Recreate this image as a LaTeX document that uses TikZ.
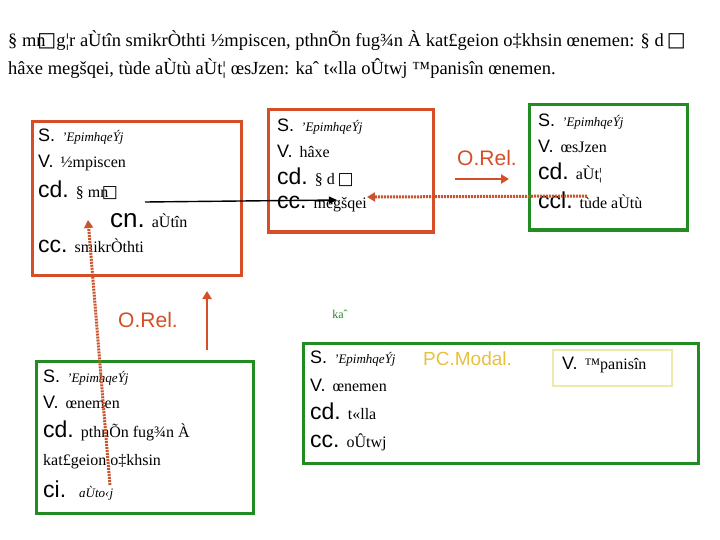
\documentclass[tikz,border=0pt]{standalone}
\usepackage{fontspec}
\setmainfont{Liberation Serif}
\newfontfamily\labf{Liberation Sans}
\newfontfamily\symf{DejaVu Sans}
\usetikzlibrary{arrows.meta}
\definecolor{redb}{RGB}{214,78,40}
\definecolor{greenb}{RGB}{34,140,34}
\definecolor{dotred}{RGB}{200,85,45}
\definecolor{yelt}{RGB}{232,192,64}
\definecolor{yelb}{RGB}{238,232,170}
\newcommand{\mbx}{{\symf\fontsize{20}{20}\selectfont\char"25A1}}
\newcommand{\mbxs}{{\symf\fontsize{17}{17}\selectfont\char"25A1}}
\newcommand{\lS}[1]{{\labf\fontsize{18}{18}\selectfont #1}\hspace{7pt}}
\newcommand{\lB}[1]{{\labf\fontsize{23}{23}\selectfont #1}\hspace{7pt}}
\newcommand{\gk}[1]{{\fontsize{16}{16}\selectfont #1}}
\newcommand{\gi}[1]{{\fontsize{13}{13}\selectfont\itshape #1}}
\tikzset{
  redbox/.style={draw=redb,line width=3pt},
  greenbox/.style={draw=greenb,line width=3pt},
  yelbox/.style={draw=yelb,line width=1.2pt},
  ln/.style={anchor=base west,inner sep=0pt},
  dotarrow/.style={draw=dotred,line width=3pt,dash pattern=on 2pt off 1pt,-{Triangle[length=8pt,width=9pt]}},
  solarrow/.style={draw=redb,line width=2.8pt,-{Triangle[length=8pt,width=9pt]}},
  blkarrow/.style={draw=black,line width=1.4pt,-{Triangle[length=8pt,width=7pt]}},
  rel/.style={text=redb,inner sep=0pt,font=\labf\fontsize{21}{21}\selectfont}
}
\begin{document}
\begin{tikzpicture}[x=1pt,y=-1pt]
\useasboundingbox (0,0) rectangle (720,540);
\fill[white] (0,0) rectangle (720,540);
% title
\node[ln] (t1) at (8,47) {{\fontsize{18.5}{18.5}\selectfont § mn\kern-0.45em\mbx g¦r aÙtîn smikrÒthti ½mpiscen, pthnÕn fug¾n À kat£geion o‡khsin œnemen: § d\,\mbx}};
\node[ln] (t2) at (8,75) {{\fontsize{18.5}{18.5}\selectfont hâxe megšqei, tùde aÙtù aÙt¦ œsJzen: kaˆ t«lla oÛtwj ™panisîn œnemen.}};
% boxes
\path[redbox] (32,122) rectangle (241,275) node[coordinate] (b1) {};
\path[redbox] (268,110) rectangle (433,232) node[coordinate] (b2) {};
\path[greenbox] (529,105) rectangle (687,230) node[coordinate] (b3) {};
\path[greenbox] (36,361) rectangle (253,513) node[coordinate] (b4) {};
\path[greenbox] (303,343) rectangle (698,463) node[coordinate] (b5) {};
\path[yelbox] (553,350) rectangle (672,386) node[coordinate] (b6) {};
% box 1
\node[ln] (a1) at (38,142) {\lS{S.}\gi{'EpimhqeÝj}};
\node[ln] (a2) at (38,168) {\lS{V.}\gk{½mpiscen}};
\node[ln] (a3) at (38,197) {\lB{cd.}\gk{§ mn\kern-0.4em\mbxs}};
\node[ln] (a4) at (110,228) {{\labf\fontsize{26}{26}\selectfont cn.}\hspace{7pt}\gk{aÙtîn}};
\node[ln] (a5) at (38,252) {\lB{cc.}\gk{smikrÒthti}};
% box 2
\node[ln] (m1) at (277,132) {\lS{S.}\gi{'EpimhqeÝj}};
\node[ln] (m2) at (277,158) {\lS{V.}\gk{hâxe}};
\node[ln] (m3) at (277,185) {\lB{cd.}\gk{§ d\,\mbxs}};
\node[ln] (m4) at (277,208) {\lB{cc.}\gk{megšqei}};
% box 3
\node[ln] (r1) at (538,127) {\lS{S.}\gi{'EpimhqeÝj}};
\node[ln] (r2) at (538,153) {\lS{V.}\gk{œsJzen}};
\node[ln] (r3) at (538,180) {\lB{cd.}\gk{aÙt¦}};
\node[ln] (r4) at (538,208) {\lB{ccl.}\gk{tùde aÙtù}};
% box 4
\node[ln] (l1) at (43,382) {\lS{S.}\gi{'EpimhqeÝj}};
\node[ln] (l2) at (43,408) {\lS{V.}\gk{œnemen}};
\node[ln] (l3) at (43,437) {\lB{cd.}\gk{pthnÕn fug¾n À}};
\node[ln] (l4) at (43,465) {\gk{kat£geion o‡khsin}};
\node[ln] (l5) at (43,497) {\lB{ci.}\hspace{6pt}\gi{aÙto‹j}};
% box 5
\node[ln] (c1) at (310,363) {\lS{S.}\gi{'EpimhqeÝj}};
\node[ln] (c2) at (310,391) {\lS{V.}\gk{œnemen}};
\node[ln] (c3) at (310,419) {\lB{cd.}\gk{t«lla}};
\node[ln] (c4) at (310,447) {\lB{cc.}\gk{oÛtwj}};
\node[ln,text=yelt,font=\labf\fontsize{19}{19}\selectfont] (pc) at (423,365) {PC.Modal.};
\node[ln] (y1) at (562,369) {\lS{V.}\gk{™panisîn}};
% kai
\node[inner sep=0pt,text=greenb] (kai) at (340,314) {{\fontsize{12}{12}\selectfont kaˆ}};
% relation labels
\node[rel] (or1) at (148,320) {O.Rel.};
\node[rel] (or2) at (487,158) {O.Rel.};
% connectors
\coordinate (p1) at (145,202);
\coordinate (p2) at (337,200);
\draw[blkarrow] (p1) -- (p2);
\coordinate (q1) at (110,485);
\coordinate (q2) at (88,220);
\draw[dotarrow] (q1) -- (q2);
\coordinate (s1) at (587,196);
\coordinate (s2) at (367,197);
\draw[dotarrow] (s1) -- (s2);
\coordinate (u1) at (207,350);
\coordinate (u2) at (207,291);
\draw[solarrow] (u1) -- (u2);
\coordinate (v1) at (455,179);
\coordinate (v2) at (509,179);
\draw[solarrow] (v1) -- (v2);
\end{tikzpicture}
\end{document}
